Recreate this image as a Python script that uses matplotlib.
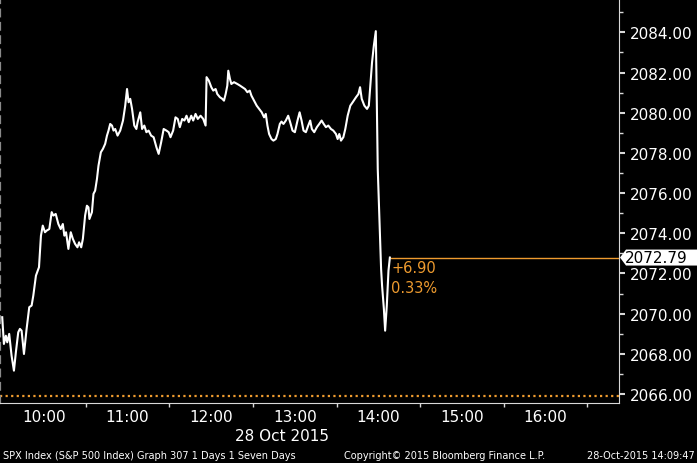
import matplotlib
matplotlib.use("Agg")
import matplotlib.pyplot as plt
from matplotlib.patches import Polygon
from matplotlib.transforms import IdentityTransform
from matplotlib.ticker import FixedLocator, FuncFormatter
from matplotlib import font_manager

# ---- data (minutes after 09:30, SPX price) ----
minutes = [0, 1.2, 2.6, 3.6, 5.0, 6.7, 8.4, 9.8, 11.5, 12.7,
           13.9, 15.6, 17.5, 19.4, 21.1, 22.3, 24.2, 26.4, 27.8, 29.1,
           30.7, 31.9, 33.8, 35.5, 36.7, 38.4, 40.3, 42.0, 43.5, 44.6,
           45.8, 47.5, 49.2, 50.7, 52.3, 54.0, 55.2, 56.7, 57.9, 59.5,
           60.8, 61.9, 62.6, 64.4, 65.5, 66.7, 68.0, 69.1, 70.8, 72.3,
           73.9, 75.2, 76.3, 77.5, 78.8, 79.9, 81.1, 82.8, 84.7, 86.7,
           88.3, 89.6, 90.7, 91.9, 93.2, 94.8, 96.3, 97.2, 99.1, 100.4,
           102.0, 103.5, 105.1, 106.9, 108.7, 110.7, 112.3, 114.1, 115.9, 117.9,
           119.5, 120.8, 122.7, 124.4, 126.0, 127.5, 129.2, 130.8, 132.3, 133.9,
           135.7, 137.1, 138.8, 140.4, 142.4, 144.3, 146.0, 146.7, 148.3, 150.1,
           151.5, 153.2, 154.4, 156.3, 158.0, 159.2, 160.4, 161.6, 162.3, 163.5,
           164.5, 166.4, 168.8, 170.7, 172.4, 174.3, 176.0, 177.7, 178.9, 180.8,
           182.7, 184.4, 186.3, 188.0, 189.2, 190.4, 191.6, 193.3, 194.7, 196.4,
           197.6, 199.3, 200.5, 201.9, 203.6, 205.3, 206.7, 208.4, 210.1, 212.0,
           213.5, 214.9, 216.3, 218.0, 219.7, 221.1, 222.3, 224.0, 225.9, 227.6,
           229.3, 230.8, 232.4, 234.1, 236.0, 237.7, 239.6, 240.8, 242.0, 243.2,
           244.9, 246.3, 248.0, 249.9, 251.6, 254.0, 255.7, 256.9, 258.1, 260.0,
           261.9, 263.2, 264.3, 265.5, 266.8, 268.2, 269.6, 270.8, 272.0, 272.7,
           274.0, 274.9, 276.1, 277.3, 278.3]

prices = [2069.82, 2068.49, 2068.90, 2068.57, 2068.99, 2067.91, 2067.16, 2068.08, 2069.07, 2069.24,
          2069.15, 2067.99, 2069.24, 2070.32, 2070.40, 2070.89, 2071.89, 2072.31, 2073.88, 2074.38,
          2074.05, 2074.13, 2074.21, 2075.05, 2074.88, 2074.96, 2074.46, 2074.21, 2074.46, 2073.88,
          2074.05, 2073.22, 2074.05, 2073.72, 2073.47, 2073.30, 2073.55, 2073.30, 2073.72, 2074.88,
          2075.37, 2075.29, 2074.71, 2075.05, 2075.96, 2076.12, 2076.70, 2077.36, 2078.03, 2078.20,
          2078.45, 2078.86, 2079.11, 2079.44, 2079.36, 2079.11, 2079.19, 2078.86, 2079.11, 2079.61,
          2080.35, 2081.18, 2080.52, 2080.69, 2080.19, 2079.36, 2079.19, 2079.53, 2080.02, 2079.19,
          2079.36, 2079.03, 2079.11, 2078.86, 2078.78, 2078.28, 2077.95, 2078.53, 2079.19, 2079.11,
          2079.03, 2078.78, 2079.11, 2079.77, 2079.69, 2079.28, 2079.69, 2079.61, 2079.85, 2079.53,
          2079.85, 2079.61, 2079.94, 2079.69, 2079.85, 2079.69, 2079.36, 2081.77, 2081.60, 2081.27,
          2081.10, 2081.18, 2080.93, 2080.77, 2080.69, 2080.60, 2080.93, 2081.35, 2082.09, 2081.68,
          2081.43, 2081.52, 2081.43, 2081.35, 2081.27, 2081.18, 2081.02, 2081.10, 2080.85, 2080.60,
          2080.35, 2080.19, 2080.02, 2079.77, 2079.94, 2079.36, 2078.94, 2078.69, 2078.61, 2078.69,
          2078.94, 2079.44, 2079.56, 2079.44, 2079.61, 2079.85, 2079.53, 2079.11, 2079.03, 2079.61,
          2080.02, 2079.61, 2079.11, 2079.03, 2079.36, 2079.61, 2079.19, 2079.03, 2079.28, 2079.44,
          2079.61, 2079.44, 2079.28, 2079.36, 2079.19, 2079.11, 2078.94, 2078.69, 2078.94, 2078.61,
          2078.78, 2079.19, 2079.85, 2080.35, 2080.52, 2080.77, 2080.93, 2081.27, 2080.69, 2080.35,
          2080.19, 2080.35, 2081.35, 2082.51, 2083.34, 2084.06, 2077.20, 2074.71, 2072.22, 2071.39,
          2070.23, 2069.15, 2070.40, 2072.14, 2072.79]

hour_labels = ["10:00", "11:00", "12:00", "13:00", "14:00", "15:00", "16:00"]
price_ticks = [2066, 2068, 2070, 2072, 2074, 2076, 2078, 2080, 2082, 2084]
last_price = 2072.79
net_change = 6.90
pct_change = 0.33
date_label = "28 Oct 2015"
footer_left = "SPX Index (S&P 500 Index) Graph 307 1 Days 1 Seven Days"
footer_mid = "Copyright\u00a9 2015 Bloomberg Finance L.P."
footer_right = "28-Oct-2015 14:09:47"

prev_close = last_price - net_change
ORANGE = "#EE9B2F"
W, H, DPI = 697, 464, 100

installed = {f.name for f in font_manager.fontManager.ttflist}
if "Liberation Sans Narrow" in installed:
    FOOT_FAMILY, FOOT_SIZE = ["Liberation Sans Narrow"], 8.6
else:
    FOOT_FAMILY, FOOT_SIZE = ["DejaVu Sans"], 7

plt.rcParams["font.family"] = ["DejaVu Sans"]
fig = plt.figure(figsize=(W / DPI, H / DPI), dpi=DPI, facecolor="black")
ax = fig.add_axes([0, 1 - 404 / H, 619 / W, 404 / H], facecolor="black")

ax.plot(minutes, prices, color="white", lw=1.5, solid_joinstyle="round", zorder=3)

ax.set_xlim(-1.6, 442.8)
ax.set_ylim(2065.55, 2085.66)

# previous close dotted line and last price line
ax.axhline(prev_close, color=ORANGE, lw=1.6, ls=(0, (1, 1.5)), zorder=2)
ax.hlines(last_price, minutes[-1], 442.8, color=ORANGE, lw=1.0, zorder=2)
ax.annotate(f"+{net_change:.2f}", xy=(minutes[-1], last_price), xytext=(1, -7.3),
            textcoords="offset points", color=ORANGE, fontsize=10.5, ha="left", va="center")
ax.annotate(f"{pct_change:.2f}%", xy=(minutes[-1], last_price), xytext=(1, -21.7),
            textcoords="offset points", color=ORANGE, fontsize=10.5, ha="left", va="center")

# spines
ax.spines["top"].set_visible(False)
ax.spines["right"].set_color("#d8d8d8")
ax.spines["bottom"].set_color("#d8d8d8")
ax.spines["left"].set_color("#8a8a8a")
ax.spines["left"].set_linestyle((0, (3, 3)))
ax.spines["left"].set_linewidth(1.6)

# y axis on the right
ax.yaxis.tick_right()
ax.yaxis.set_major_locator(FixedLocator(price_ticks))
ax.yaxis.set_minor_locator(FixedLocator([p + 1 for p in price_ticks]))
ax.yaxis.set_major_formatter(FuncFormatter(lambda v, pos: f"{v:.2f}"))
ax.tick_params(axis="y", which="major", direction="out", length=4, width=1.5,
               color="#d8d8d8", labelcolor="white", labelsize=11, pad=4)
ax.tick_params(axis="y", which="minor", direction="out", length=3, width=1,
               color="#d8d8d8")

# x axis: hour labels, half-hour tick marks
hour_pos = [(int(h[:2]) - 9) * 60 - 30 + int(h[3:]) for h in hour_labels]
ax.xaxis.set_major_locator(FixedLocator(hour_pos))
ax.xaxis.set_major_formatter(FuncFormatter(
    lambda v, pos: hour_labels[pos] if pos is not None and pos < len(hour_labels) else ""))
ax.xaxis.set_minor_locator(FixedLocator([p + 30 for p in hour_pos]))
ax.tick_params(axis="x", which="major", length=0, labelcolor="white", labelsize=11, pad=4.5)
ax.tick_params(axis="x", which="minor", direction="out", length=3, width=1, color="#d8d8d8")

# date label
fig.text(282 / W, 1 - 437 / H, date_label, color="white", fontsize=11, ha="center", va="center")

# footer
for x, s, ha in [(3, footer_left, "left"), (344, footer_mid, "left"), (695, footer_right, "right")]:
    fig.text(x / W, 1 - 456 / H, s, color="white", fontsize=FOOT_SIZE, family=FOOT_FAMILY,
             ha=ha, va="center")

# last price tag on the right axis
fig.canvas.draw()
ydisp = ax.transData.transform((0, last_price))[1]
x0 = ax.transAxes.transform((1, 0))[0]
verts = [(x0 + 1, ydisp), (x0 + 7, ydisp + 8), (W, ydisp + 8), (W, ydisp - 8), (x0 + 7, ydisp - 8)]
tag = Polygon(verts, closed=True, facecolor="white", edgecolor="none",
              transform=IdentityTransform(), zorder=10)
fig.add_artist(tag)
fig.text((x0 + 6) / W, ydisp / H, f"{last_price:.2f}", color="black", fontsize=11,
         ha="left", va="center", zorder=11)

fig.savefig("out.png", dpi=DPI, facecolor="black")
